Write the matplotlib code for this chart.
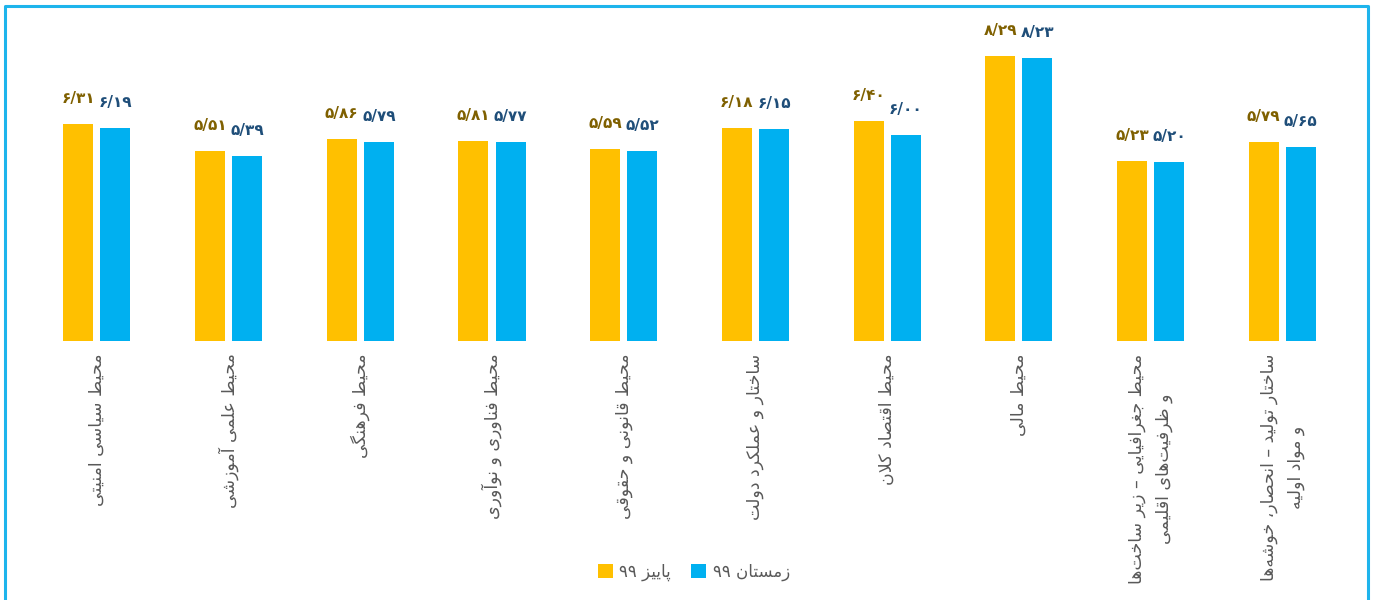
import matplotlib
matplotlib.use("Agg")
import matplotlib.pyplot as plt
from matplotlib.lines import Line2D
import numpy as np

categories = [
    "محیط سیاسی امنیتی",
    "محیط علمی آموزشی",
    "محیط فرهنگی",
    "محیط فناوری و نوآوری",
    "محیط قانونی و حقوقی",
    "ساختار و عملکرد دولت",
    "محیط اقتصاد کلان",
    "محیط مالی",
    "محیط جغرافیایی – زیر ساخت‌ها\nو ظرفیت‌های اقلیمی",
    "ساختار تولید – انحصار، خوشه‌ها\nو مواد اولیه",
]
autumn_99 = [6.31, 5.51, 5.86, 5.81, 5.59, 6.18, 6.40, 8.29, 5.23, 5.79]
winter_99 = [6.19, 5.39, 5.79, 5.77, 5.52, 6.15, 6.00, 8.23, 5.20, 5.65]
series_names = ["پاییز ۹۹", "زمستان ۹۹"]

# matplotlib has no arabic shaping, so pick presentation forms by hand
# (isolated, final, initial, medial)
FORMS = {
    "ا": ("\ufe8d", "\ufe8e"), "آ": ("\ufe81", "\ufe82"),
    "د": ("\ufea9", "\ufeaa"), "ذ": ("\ufeab", "\ufeac"),
    "ر": ("\ufead", "\ufeae"), "ز": ("\ufeaf", "\ufeb0"),
    "ژ": ("\ufb8a", "\ufb8b"), "و": ("\ufeed", "\ufeee"),
    "ب": ("\ufe8f", "\ufe90", "\ufe91", "\ufe92"),
    "پ": ("\ufb56", "\ufb57", "\ufb58", "\ufb59"),
    "ت": ("\ufe95", "\ufe96", "\ufe97", "\ufe98"),
    "ث": ("\ufe99", "\ufe9a", "\ufe9b", "\ufe9c"),
    "ج": ("\ufe9d", "\ufe9e", "\ufe9f", "\ufea0"),
    "چ": ("\ufb7a", "\ufb7b", "\ufb7c", "\ufb7d"),
    "ح": ("\ufea1", "\ufea2", "\ufea3", "\ufea4"),
    "خ": ("\ufea5", "\ufea6", "\ufea7", "\ufea8"),
    "س": ("\ufeb1", "\ufeb2", "\ufeb3", "\ufeb4"),
    "ش": ("\ufeb5", "\ufeb6", "\ufeb7", "\ufeb8"),
    "ص": ("\ufeb9", "\ufeba", "\ufebb", "\ufebc"),
    "ض": ("\ufebd", "\ufebe", "\ufebf", "\ufec0"),
    "ط": ("\ufec1", "\ufec2", "\ufec3", "\ufec4"),
    "ظ": ("\ufec5", "\ufec6", "\ufec7", "\ufec8"),
    "ع": ("\ufec9", "\ufeca", "\ufecb", "\ufecc"),
    "غ": ("\ufecd", "\ufece", "\ufecf", "\ufed0"),
    "ف": ("\ufed1", "\ufed2", "\ufed3", "\ufed4"),
    "ق": ("\ufed5", "\ufed6", "\ufed7", "\ufed8"),
    "ک": ("\ufb8e", "\ufb8f", "\ufb90", "\ufb91"),
    "گ": ("\ufb92", "\ufb93", "\ufb94", "\ufb95"),
    "ل": ("\ufedd", "\ufede", "\ufedf", "\ufee0"),
    "م": ("\ufee1", "\ufee2", "\ufee3", "\ufee4"),
    "ن": ("\ufee5", "\ufee6", "\ufee7", "\ufee8"),
    "ه": ("\ufee9", "\ufeea", "\ufeeb", "\ufeec"),
    "ی": ("\ufbfc", "\ufbfd", "\ufbfe", "\ufbff"),
}
LAM_ALEF = {"ا": ("\ufefb", "\ufefc"), "آ": ("\ufef5", "\ufef6")}


def dual(c):
    return c in FORMS and len(FORMS[c]) == 4


def shape_line(s):
    out = []
    i = 0
    while i < len(s):
        c = s[i]
        if c not in FORMS:
            out.append(c)
            i += 1
            continue
        prev = s[i - 1] if i > 0 else ""
        join_prev = dual(prev)
        if c == "ل" and i + 1 < len(s) and s[i + 1] in LAM_ALEF:
            out.append(LAM_ALEF[s[i + 1]][1 if join_prev else 0])
            i += 2
            continue
        nxt = s[i + 1] if i + 1 < len(s) else ""
        join_next = dual(c) and nxt in FORMS
        f = FORMS[c]
        if join_prev and join_next:
            out.append(f[3])
        elif join_prev:
            out.append(f[1])
        elif join_next:
            out.append(f[2])
        else:
            out.append(f[0])
        i += 1
    # visual order: reverse, but keep digit runs left to right
    runs = []
    for ch in out:
        isdig = ch.isdigit()
        if runs and isdig and runs[-1][0]:
            runs[-1][1].append(ch)
        else:
            runs.append((isdig, [ch]))
    return "".join("".join(r[1]) for r in reversed(runs))


def fa(s):
    return "\n".join(shape_line(line) for line in s.split("\n"))


def fa_num(v):
    txt = "{:.2f}".format(v).replace(".", "/")
    return txt.translate(str.maketrans("0123456789", "۰۱۲۳۴۵۶۷۸۹"))


plt.rcParams["font.family"] = ["DejaVu Sans"]

yellow = "#FFC000"
blue = "#00B0F0"

fig = plt.figure(figsize=(13.74, 6), dpi=100)
ax = fig.add_axes([0.0226, 0.4317, 0.9585, 0.516])

x = np.arange(len(categories))
w = 0.228
off = 0.141
b1 = ax.bar(x - off, autumn_99, w, color=yellow, label=fa(series_names[0]))
b2 = ax.bar(x + off, winter_99, w, color=blue, label=fa(series_names[1]))

for rect, v in zip(b1, autumn_99):
    ax.annotate(fa_num(v), (rect.get_x() + rect.get_width() / 2, v),
                xytext=(0, 13), textcoords="offset points", ha="center",
                va="bottom", fontsize=11, fontweight="bold", color="#7F6000")
for rect, v in zip(b2, winter_99):
    ax.annotate(fa_num(v), (rect.get_x() + rect.get_width() / 2, v),
                xytext=(0, 13), textcoords="offset points", ha="center",
                va="bottom", fontsize=11, fontweight="bold", color="#1F4E79")

ax.set_xlim(-0.5, len(categories) - 0.5)
ax.set_ylim(0, 9)
ax.set_xticks(x)
ax.set_xticklabels([fa(c) for c in categories], rotation=90, fontsize=12.5,
                   color="#595959", ha="center", va="top")
for t in ax.get_xticklabels():
    t.set_linespacing(1.6)
ax.tick_params(axis="x", length=0, pad=9)
ax.set_yticks([])
for sp in ax.spines.values():
    sp.set_visible(False)

leg = fig.legend(loc="center", bbox_to_anchor=(0.505, 0.047), ncol=2,
                 frameon=False, fontsize=12, handlelength=0.9, handleheight=0.9,
                 handletextpad=0.4, columnspacing=1.2)
for t in leg.get_texts():
    t.set_color("#595959")

# light blue frame round the chart (open at the bottom)
frame = "#1EB4EC"
fig.add_artist(Line2D([0.0036, 0.0036, 0.9956, 0.9956], [0.0, 0.9900, 0.9900, 0.0],
                      transform=fig.transFigure, color=frame, lw=2.2))

fig.savefig("out.png", dpi=100)
